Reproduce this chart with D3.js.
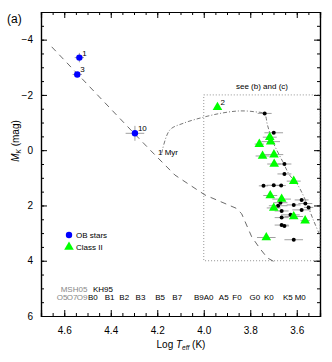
<!DOCTYPE html>
<html>
<head>
<meta charset="utf-8">
<script src="https://d3js.org/d3.v7.min.js"></script>
<style>
  body { margin: 0; background: #fff; }
  text { font-family: "Liberation Sans", Arial, sans-serif; }
</style>
</head>
<body>
<svg id="chart" width="332" height="362"></svg>
<script>
// OB stars (blue circles)
const obLabels = ["1", "3", "10"];
const obLogT   = [4.535, 4.544, 4.296];
const obMk     = [-3.35, -2.74, -0.61];
const obErrT   = [0.02, 0.02, 0.04];
const obErrM   = [0.17, 0.05, 0.27];

// Class II (green triangles)
const c2Labels = ["2", "", "", "", "", "", "", "", "", "", "", "", "", ""];
const c2LogT   = [3.941, 3.716, 3.712, 3.761, 3.747, 3.698, 3.697, 3.613, 3.714, 3.665, 3.699, 3.613, 3.564, 3.731];
const c2Mk     = [-1.55, -0.47, -0.31, -0.22, 0.21, 0.16, 0.50, 1.12, 1.64, 1.77, 2.09, 2.40, 2.55, 3.16];
const c2ErrT   = [0.01, 0.03, 0.04, 0.02, 0.03, 0.04, 0.03, 0.03, 0.03, 0.04, 0.03, 0.04, 0.02, 0.04];

// other members (black dots)
const bLogT = [3.738, 3.699, 3.653, 3.653, 3.743, 3.699, 3.667, 3.579, 3.563, 3.549,
               3.670, 3.680, 3.613, 3.579, 3.665, 3.627, 3.665, 3.665, 3.653, 3.613];
const bMk   = [-1.33, -0.63, 0.50, 0.86, 1.29, 1.27, 1.28, 1.80, 1.93, 2.07,
               1.90, 2.01, 1.98, 2.16, 2.20, 2.34, 2.44, 2.71, 2.74, 3.24];
const bErrT = [0.03, 0.04, 0.03, 0.03, 0.02, 0.03, 0.02, 0.03, 0.03, 0.02,
               0.03, 0.04, 0.03, 0.04, 0.03, 0.04, 0.03, 0.03, 0.02, 0.04];

// main sequence (dashed)
const msLogT = [4.654, 4.326, 4.231, 4.124, 3.995, 3.861, 3.837, 3.794, 3.760, 3.726, 3.696];
const msMk   = [-3.74, -0.84, -0.01, 0.90, 1.62, 2.10, 2.30, 3.13, 3.54, 3.90, 4.04];

// 1 Myr isochrone (dash-dot)
const isoLogT = [4.181, 4.146, 4.089, 4.003, 3.917, 3.846, 3.781, 3.739, 3.726, 3.703, 3.660, 3.631, 3.598, 3.563, 3.527, 3.503];
const isoMk   = [0.11, -0.73, -0.97, -1.19, -1.35, -1.42, -1.39, -1.31, -0.91, -0.31, 0.42, 0.90, 1.23, 1.80, 2.56, 3.03];

// spectral type scales
const khTypes = ["B0", "B1", "B2", "B3", "B5", "B7", "B9", "A0", "A5", "F0", "G0", "K0", "K5", "M0"];
const khLogT  = [4.477, 4.405, 4.342, 4.272, 4.188, 4.114, 4.021, 3.979, 3.914, 3.857, 3.780, 3.720, 3.638, 3.585];
const msTypes = ["O5", "O7", "O9"];
const msLogTs = [4.609, 4.566, 4.523];

// axes
const xTicks = [4.6, 4.4, 4.2, 4.0, 3.8, 3.6];
const yTicks = [-4, -2, 0, 2, 4, 6];

const svg = d3.select("#chart");
const mLeft = 41, mRight = 320, mTop = 12, mBottom = 316;

const x = d3.scaleLinear().domain([4.7, 3.5]).range([mLeft, mRight]);
const y = d3.scaleLinear().domain([-5, 6]).range([mTop, mBottom]);

// minor ticks (all four sides)
const xMinor = d3.range(4.7, 3.49, -0.05);
const yMinor = d3.range(-5, 6.01, 0.5);

svg.append("g").attr("transform", `translate(0,${mBottom})`)
  .call(d3.axisBottom(x).tickValues(xMinor).tickSize(-3).tickFormat(""));
svg.append("g").attr("transform", `translate(0,${mTop})`)
  .call(d3.axisTop(x).tickValues(xMinor).tickSize(-3).tickFormat(""));
svg.append("g").attr("transform", `translate(${mLeft},0)`)
  .call(d3.axisLeft(y).tickValues(yMinor).tickSize(-3).tickFormat(""));
svg.append("g").attr("transform", `translate(${mRight},0)`)
  .call(d3.axisRight(y).tickValues(yMinor).tickSize(-3).tickFormat(""));

// major ticks with labels
svg.append("g").attr("transform", `translate(0,${mBottom})`)
  .call(d3.axisBottom(x).tickValues(xTicks).tickSize(-6).tickPadding(11).tickFormat(d3.format(".1f")));
svg.append("g").attr("transform", `translate(0,${mTop})`)
  .call(d3.axisTop(x).tickValues(xTicks).tickSize(-6).tickFormat(""));
svg.append("g").attr("transform", `translate(${mLeft},0)`)
  .call(d3.axisLeft(y).tickValues(yTicks).tickSize(-6).tickPadding(8).tickFormat(d3.format("d")));
svg.append("g").attr("transform", `translate(${mRight},0)`)
  .call(d3.axisRight(y).tickValues(yTicks).tickSize(-6).tickFormat(""));

svg.selectAll(".domain").attr("stroke", "#000").attr("stroke-width", 1.2);
svg.selectAll(".tick line").attr("stroke", "#000");
svg.selectAll(".tick text").attr("font-size", 10).attr("fill", "#000")
  .attr("font-family", "Liberation Sans, Arial, sans-serif");

// axis titles
const xl = svg.append("text").attr("x", 181).attr("y", 348).attr("text-anchor", "middle")
  .attr("font-size", 10);
xl.append("tspan").text("Log ");
xl.append("tspan").attr("font-style", "italic").text("T");
xl.append("tspan").attr("font-size", 6.5).attr("dy", 2).attr("font-style", "italic").text("eff");
xl.append("tspan").attr("dy", -2).text(" (K)");

const yl = svg.append("text").attr("transform", "translate(19,141) rotate(-90)")
  .attr("text-anchor", "middle").attr("font-size", 10);
yl.append("tspan").attr("font-style", "italic").text("M");
yl.append("tspan").attr("font-size", 6.5).attr("dy", 2).attr("font-style", "italic").text("K");
yl.append("tspan").attr("dy", -2).text(" (mag)");

svg.append("text").attr("x", 7).attr("y", 23).attr("font-size", 12).text("(a)");

// zoom box
svg.append("rect")
  .attr("x", x(4.0)).attr("y", y(-2))
  .attr("width", x(3.5) - x(4.0)).attr("height", y(4) - y(-2))
  .attr("fill", "none").attr("stroke", "#777").attr("stroke-width", 0.8)
  .attr("stroke-dasharray", "1,2");
svg.append("text").attr("x", 262).attr("y", 89).attr("text-anchor", "middle")
  .attr("font-size", 8).text("see (b) and (c)");

// tracks
const line = d3.line().x(d => x(d[0])).y(d => y(d[1]));
svg.append("path")
  .attr("d", line(d3.zip(msLogT, msMk)))
  .attr("fill", "none").attr("stroke", "#444").attr("stroke-width", 0.8)
  .attr("stroke-dasharray", "6,5");
svg.append("path")
  .attr("d", line.curve(d3.curveCatmullRom)(d3.zip(isoLogT, isoMk)))
  .attr("fill", "none").attr("stroke", "#555").attr("stroke-width", 0.8)
  .attr("stroke-dasharray", "4,2,1,2");
svg.append("text").attr("x", 158).attr("y", 155).attr("font-size", 8).text("1 Myr");

// error bars
const errG = svg.append("g").attr("stroke", "#888").attr("stroke-width", 0.8);
function hbar(t, m, e) {
  errG.append("line").attr("x1", x(t - e)).attr("x2", x(t + e))
    .attr("y1", y(m)).attr("y2", y(m));
}
function vbar(t, m, e) {
  errG.append("line").attr("x1", x(t)).attr("x2", x(t))
    .attr("y1", y(m - e)).attr("y2", y(m + e));
}
obLogT.forEach((t, i) => { hbar(t, obMk[i], obErrT[i]); vbar(t, obMk[i], obErrM[i]); });
c2LogT.forEach((t, i) => hbar(t, c2Mk[i], c2ErrT[i]));
bLogT.forEach((t, i) => hbar(t, bMk[i], bErrT[i]));

// black dots
svg.append("g").selectAll("circle").data(d3.range(bLogT.length)).enter()
  .append("circle")
  .attr("cx", i => x(bLogT[i])).attr("cy", i => y(bMk[i])).attr("r", 2)
  .attr("fill", "#000");

// class II triangles
const tri = d3.symbol().type(d3.symbolTriangle).size(40);
svg.append("g").selectAll("path").data(d3.range(c2LogT.length)).enter()
  .append("path")
  .attr("d", tri)
  .attr("transform", i => `translate(${x(c2LogT[i])},${y(c2Mk[i])})`)
  .attr("fill", "#00ff00");

// OB stars
svg.append("g").selectAll("circle").data(d3.range(obLogT.length)).enter()
  .append("circle")
  .attr("cx", i => x(obLogT[i])).attr("cy", i => y(obMk[i])).attr("r", 3.2)
  .attr("fill", "#0000ff");

// star numbers
obLabels.forEach((s, i) => {
  svg.append("text").attr("x", x(obLogT[i]) + 3).attr("y", y(obMk[i]) - 2)
    .attr("font-size", 8).text(s);
});
c2Labels.forEach((s, i) => {
  if (!s) return;
  svg.append("text").attr("x", x(c2LogT[i]) + 3).attr("y", y(c2Mk[i]) - 2)
    .attr("font-size", 8).text(s);
});

// legend
svg.append("circle").attr("cx", 69).attr("cy", 235).attr("r", 3.2).attr("fill", "#0000ff");
svg.append("text").attr("x", 76).attr("y", 238).attr("font-size", 8).text("OB stars");
svg.append("path").attr("d", tri).attr("transform", "translate(69,247)").attr("fill", "#00ff00");
svg.append("text").attr("x", 76).attr("y", 250).attr("font-size", 8).text("Class II");

// spectral type labels
svg.append("text").attr("x", 74).attr("y", 292).attr("text-anchor", "middle")
  .attr("font-size", 8).attr("fill", "#888").text("MSH05");
svg.append("text").attr("x", 103).attr("y", 292).attr("text-anchor", "middle")
  .attr("font-size", 8).text("KH95");
svg.append("g").selectAll("text").data(d3.range(msTypes.length)).enter()
  .append("text")
  .attr("x", i => x(msLogTs[i])).attr("y", 300).attr("text-anchor", "middle")
  .attr("font-size", 8).attr("fill", "#888").text(i => msTypes[i]);
svg.append("g").selectAll("text").data(d3.range(khTypes.length)).enter()
  .append("text")
  .attr("x", i => x(khLogT[i])).attr("y", 300).attr("text-anchor", "middle")
  .attr("font-size", 8).text(i => khTypes[i]);
</script>
</body>
</html>
